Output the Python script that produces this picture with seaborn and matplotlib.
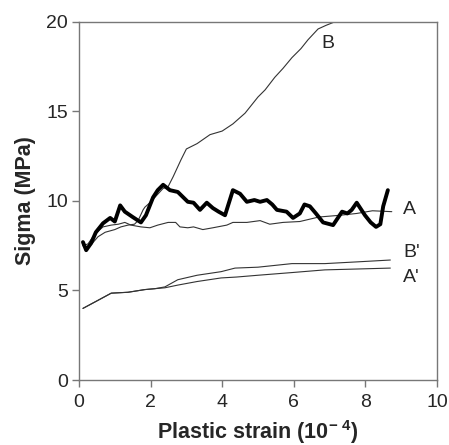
import numpy as np
import pandas as pd
import matplotlib
matplotlib.use('Agg')
import matplotlib.pyplot as plt
import seaborn as sns

# curve A (thick)
a_thick_x = [0.11, 0.2, 0.34, 0.47, 0.67, 0.87, 1.0, 1.15, 1.28, 1.5, 1.73, 1.87, 2.07, 2.2, 2.35,
             2.54, 2.76, 3.04, 3.2, 3.38, 3.57, 3.74, 3.9, 4.08, 4.3, 4.5, 4.69, 4.9, 5.06, 5.25, 5.4,
             5.53, 5.8, 5.98, 6.17, 6.3, 6.45, 6.62, 6.82, 7.1, 7.35, 7.5, 7.62, 7.76, 7.99, 8.15, 8.3,
             8.42, 8.5, 8.63]
a_thick_y = [7.7, 7.25, 7.65, 8.25, 8.75, 9.05, 8.85, 9.75, 9.4, 9.1, 8.8, 9.2, 10.2, 10.6, 10.9,
             10.6, 10.5, 9.95, 9.9, 9.5, 9.9, 9.6, 9.4, 9.2, 10.6, 10.4, 9.95, 10.05, 9.95, 10.05, 9.8,
             9.5, 9.4, 9.05, 9.3, 9.8, 9.7, 9.3, 8.8, 8.65, 9.4, 9.3, 9.5, 9.9, 9.2, 8.8, 8.55,
             8.7, 9.7, 10.6]

# curve A (thin)
a_thin_x = [0.11, 0.25, 0.39, 0.53, 0.67, 0.9, 1.1, 1.28, 1.45, 1.73, 1.98, 2.2, 2.49, 2.7, 2.82,
            3.04, 3.2, 3.46, 3.74, 4.13, 4.3, 4.69, 5.06, 5.33, 5.7, 6.17, 6.7, 7.3, 7.76, 8.2, 8.74]
a_thin_y = [7.5, 7.6, 8.0, 8.3, 8.55, 8.65, 8.7, 8.8, 8.65, 8.55, 8.5, 8.65, 8.8, 8.8, 8.55,
            8.5, 8.55, 8.4, 8.5, 8.65, 8.8, 8.8, 8.9, 8.7, 8.8, 8.85, 9.1, 9.2, 9.3, 9.45, 9.4]

# curve B (thin)
b_x = [0.11, 0.25, 0.53, 0.73, 1.0, 1.17, 1.37, 1.55, 1.65, 1.79, 1.84, 1.98, 2.12, 2.35, 2.49, 2.63,
       2.85, 3.0, 3.3, 3.66, 4.0, 4.3, 4.64, 5.0, 5.2, 5.47, 5.7, 5.95, 6.2, 6.4, 6.68, 6.9, 7.15]
b_y = [7.5, 7.35, 8.0, 8.25, 8.4, 8.55, 8.65, 8.7, 8.9, 9.5, 9.65, 9.9, 10.2, 10.7, 10.8, 11.35,
       12.3, 12.9, 13.2, 13.7, 13.9, 14.3, 14.9, 15.8, 16.2, 16.9, 17.4, 18.0, 18.5, 19.0, 19.6, 19.8, 20.0]

# curves B' and A'
bp_x = [0.11, 0.53, 0.9, 1.37, 1.84, 2.12, 2.4, 2.76, 3.3, 3.97, 4.36, 5.0, 5.95, 6.87, 7.8, 8.7]
bp_y = [4.0, 4.45, 4.85, 4.9, 5.05, 5.1, 5.2, 5.6, 5.85, 6.05, 6.25, 6.3, 6.5, 6.5, 6.6, 6.7]
ap_x = [0.11, 0.53, 0.9, 1.37, 1.84, 2.12, 2.4, 2.76, 3.3, 3.97, 4.4, 5.0, 5.95, 6.87, 7.8, 8.7]
ap_y = [4.0, 4.45, 4.85, 4.9, 5.05, 5.1, 5.15, 5.3, 5.5, 5.7, 5.75, 5.85, 6.0, 6.15, 6.2, 6.25]

sns.set_style('ticks')
plt.rcParams['font.family'] = ['Liberation Sans', 'DejaVu Sans']
plt.rcParams['mathtext.fontset'] = 'custom'
plt.rcParams['mathtext.bf'] = 'Liberation Sans:bold'
plt.rcParams['mathtext.rm'] = 'Liberation Sans'

fig = plt.figure(figsize=(4.49, 4.45), dpi=100)
ax = fig.add_axes([0.176, 0.146, 0.797, 0.805])

thin = dict(color='#333333', linewidth=0.8, sort=False, estimator=None)
sns.lineplot(x=b_x, y=b_y, ax=ax, **thin)
sns.lineplot(x=a_thin_x, y=a_thin_y, ax=ax, **thin)
sns.lineplot(x=bp_x, y=bp_y, ax=ax, **thin)
sns.lineplot(x=ap_x, y=ap_y, ax=ax, **thin)
sns.lineplot(x=a_thick_x, y=a_thick_y, ax=ax, color='black', linewidth=2.8, sort=False, estimator=None)

ax.set_xlim(0, 10)
ax.set_ylim(0, 20)
ax.set_xticks([0, 2, 4, 6, 8, 10])
ax.set_yticks([0, 5, 10, 15, 20])
ax.tick_params(labelsize=14, length=5, color='#777777', width=1)
ax.tick_params(axis='x', pad=5)
ax.tick_params(axis='y', pad=3)

for s in ax.spines.values():
    s.set_color('#777777')
    s.set_linewidth(1)

ax.set_xlabel(r'Plastic strain (10$^{\mathbf{-\ 4}}$)', fontsize=15.5, fontweight='bold', labelpad=5)
ax.set_ylabel('Sigma (MPa)', fontsize=15.5, fontweight='bold', labelpad=7)

ax.text(6.95, 18.8, 'B', fontsize=14, ha='center', va='center')
ax.text(9.05, 9.5, 'A', fontsize=14, ha='left', va='center')
ax.text(9.05, 7.1, "B'", fontsize=14, ha='left', va='center')
ax.text(9.05, 5.75, "A'", fontsize=14, ha='left', va='center')

fig.savefig('out.png', dpi=100)
